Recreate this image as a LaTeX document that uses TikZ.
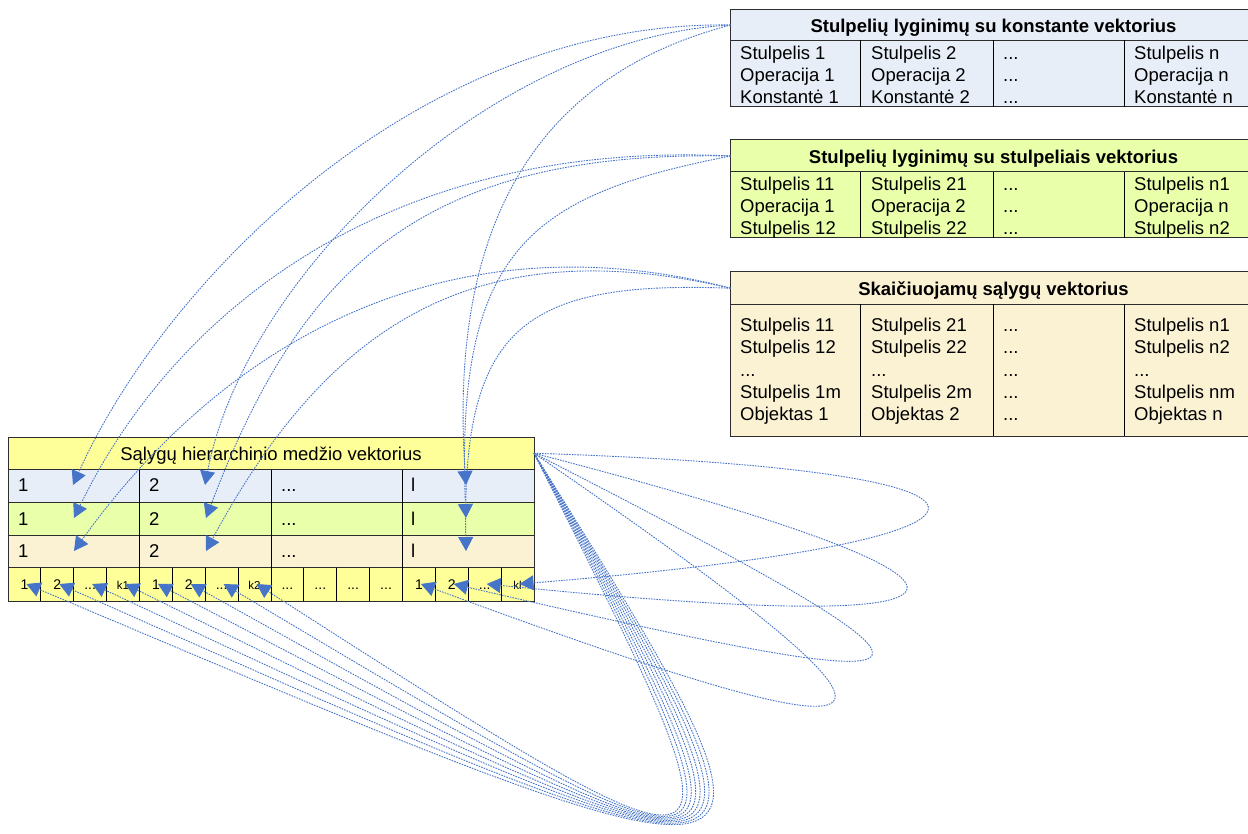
\documentclass[tikz,border=0pt]{standalone}
\usepackage{fontspec}
\setmainfont{Liberation Sans}
\usetikzlibrary{arrows.meta}
\definecolor{linkblue}{RGB}{70,116,200}
\definecolor{fillblue}{RGB}{232,238,248}
\definecolor{fillgreen}{RGB}{233,255,170}
\definecolor{fillcream}{RGB}{251,242,212}
\definecolor{fillyellow}{RGB}{255,255,153}
\definecolor{framegray}{RGB}{45,45,45}
\newcommand\dotsx{...}

\begin{document}
\begin{tikzpicture}[x=1pt,y=-1pt,
  box/.style={rectangle,draw=framegray,line width=1pt,inner sep=0pt,outer sep=0pt,anchor=north west},
  rule/.style={draw=black,line width=1pt},
  txt/.style={inner sep=0pt,anchor=base west,font=\fontsize{18.5}{22}\selectfont},
  ttl/.style={inner sep=0pt,anchor=base,font=\fontsize{18.5}{22}\selectfont\bfseries},
  small/.style={inner sep=0pt,anchor=base,font=\fontsize{14}{16}\selectfont},
  tiny/.style={inner sep=0pt,anchor=base,font=\fontsize{11.5}{13}\selectfont},
  link/.style={draw=linkblue,line width=0.9pt,dash pattern=on 1.6pt off 1.1pt,
    -{Triangle[length=14pt,width=15pt]}},
]
\useasboundingbox (0,0) rectangle (1248,834);
\clip (0,0) rectangle (1248,834);
\fill[white] (0,0) rectangle (1248,834);

% ---------- vector of column/constant comparisons
\node[box,fill=fillblue,minimum width=525.3pt,minimum height=97.5pt] (t1) at (730.7,9.5) {};
\node[box,fill=fillblue,minimum width=525.3pt,minimum height=31pt] (t1h) at (730.7,9.5) {};
\foreach \cx in {860.7,993,1124.7} \draw[rule] (\cx,40.5) -- (\cx,107);
\node[ttl] (t1t) at (993.5,32.8) {Stulpelių lyginimų su konstante vektorius};
\foreach \cx/\a/\b/\c [count=\k] in {740/Stulpelis 1/Operacija 1/Konstantė 1,
    871/Stulpelis 2/Operacija 2/Konstantė 2, 1003/\dotsx/\dotsx/\dotsx,
    1134/Stulpelis n/Operacija n/Konstantė n}{
  \node[txt] (p1-\k-1) at (\cx,59.3) {\a};
  \node[txt] (p1-\k-2) at (\cx,81.6) {\b};
  \node[txt] (p1-\k-3) at (\cx,104) {\c};
}

% ---------- vector of column/column comparisons
\node[box,fill=fillgreen,minimum width=525.3pt,minimum height=98pt] (t2) at (730.7,140) {};
\node[box,fill=fillgreen,minimum width=525.3pt,minimum height=32pt] (t2h) at (730.7,140) {};
\foreach \cx in {860.7,993,1124.7} \draw[rule] (\cx,172) -- (\cx,238);
\node[ttl] (t2t) at (993.5,164) {Stulpelių lyginimų su stulpeliais vektorius};
\foreach \cx/\a/\b/\c [count=\k] in {740/Stulpelis 11/Operacija 1/Stulpelis 12,
    871/Stulpelis 21/Operacija 2/Stulpelis 22, 1003/\dotsx/\dotsx/\dotsx,
    1134/Stulpelis n1/Operacija n/Stulpelis n2}{
  \node[txt] (p2-\k-1) at (\cx,190.6) {\a};
  \node[txt] (p2-\k-2) at (\cx,212.9) {\b};
  \node[txt] (p2-\k-3) at (\cx,235) {\c};
}

% ---------- vector of computed conditions
\node[box,fill=fillcream,minimum width=525.3pt,minimum height=164pt] (t3) at (730.7,272) {};
\node[box,fill=fillcream,minimum width=525.3pt,minimum height=32.5pt] (t3h) at (730.7,272) {};
\foreach \cx in {860.7,993,1124.7} \draw[rule] (\cx,304.5) -- (\cx,436);
\node[ttl] (t3t) at (993.5,295.3) {Skaičiuojamų sąlygų vektorius};
\foreach \cx/\a/\b/\c/\d/\e [count=\k] in {740/Stulpelis 11/Stulpelis 12/\dotsx/Stulpelis 1m/Objektas 1,
    871/Stulpelis 21/Stulpelis 22/\dotsx/Stulpelis 2m/Objektas 2,
    1003/\dotsx/\dotsx/\dotsx/\dotsx/\dotsx,
    1134/Stulpelis n1/Stulpelis n2/\dotsx/Stulpelis nm/Objektas n}{
  \node[txt] (p3-\k-1) at (\cx,331.9) {\a};
  \node[txt] (p3-\k-2) at (\cx,354) {\b};
  \node[txt] (p3-\k-3) at (\cx,376.3) {\c};
  \node[txt] (p3-\k-4) at (\cx,398) {\d};
  \node[txt] (p3-\k-5) at (\cx,420.3) {\e};
}

% ---------- hierarchical condition tree vector
\node[box,fill=fillyellow,minimum width=526pt,minimum height=32.5pt] (mh) at (8,437) {};
\node[box,fill=fillblue,minimum width=526pt,minimum height=33pt] (mr1) at (8,469.5) {};
\node[box,fill=fillgreen,minimum width=526pt,minimum height=32.5pt] (mr2) at (8,502.5) {};
\node[box,fill=fillcream,minimum width=526pt,minimum height=32.5pt] (mr3) at (8,535) {};
\node[box,fill=fillyellow,minimum width=526pt,minimum height=33.5pt] (mr4) at (8,567.5) {};
\foreach \cx in {139.5,271,402.5} \draw[rule] (\cx,469.5) -- (\cx,567.5);
\foreach \k in {1,...,15} \draw[rule] ({8+32.875*\k},567.5) -- ({8+32.875*\k},601);
\node[inner sep=0pt,anchor=base,font=\fontsize{18.5}{22}\selectfont] (mt) at (271,460)
  {Sąlygų hierarchinio medžio vektorius};
\foreach \yy [count=\r] in {491.6,525,557.3}{
  \node[txt] (m-\r-1) at (18,\yy) {1};
  \node[txt] (m-\r-2) at (149,\yy) {2};
  \node[txt] (m-\r-3) at (281,\yy) {\dotsx};
  \node[txt] (m-\r-4) at (411,\yy) {l};
}
\foreach \lab/\sty [count=\k] in {1/small,2/small,\dotsx/small,k1/tiny,1/small,2/small,\dotsx/small,k2/tiny,
    \dotsx/small,\dotsx/small,\dotsx/small,\dotsx/small,1/small,2/small,\dotsx/small,kl/tiny}{
  \node[\sty] (s-\k) at ({8+32.875*(\k-0.5)},589) {\lab};
  \coordinate (b\k) at ({10+32.875*(\k-0.5)},584);
}

% ---------- arrow targets inside the cells
\coordinate (a11) at (73,485);  \coordinate (a12) at (205,485); \coordinate (a13) at (466,485);
\coordinate (a21) at (74,518);  \coordinate (a22) at (206,518); \coordinate (a23) at (466,518);
\coordinate (a31) at (74,551);  \coordinate (a32) at (206,551); \coordinate (a33) at (466,551);

% ---------- links from the three vectors
\draw[link] (t1h.west) .. controls (420,20)  and (165,280) .. (a11);
\draw[link] (t1h.west) .. controls (491,38)  and (245,275) .. (a12);
\draw[link] (t1h.west) .. controls (540,75)  and (448,220) .. (a13);
\draw[link] (t2h.west) .. controls (400,140) and (180,300) .. (a21);
\draw[link] (t2h.west) .. controls (420,150) and (300,270) .. (a22);
\draw[link] (t2h.west) .. controls (530,195) and (455,250) .. (a23);
\draw[link] (t3h.west) .. controls (470,220) and (240,320) .. (a31);
\draw[link] (t3h.west) .. controls (480,230) and (330,320) .. (a32);
\draw[link] (t3h.west) .. controls (520,280) and (462,330) .. (a33);

% ---------- links from the tree header back to its child cells
\foreach \i/\qx/\qy in {1/826.4/922.8, 2/817.5/921.0, 3/808.7/919.0, 4/799.7/917.1,
    5/790.8/915.2, 6/781.8/913.4, 7/773.0/911.4, 8/764.1/909.5}
  \draw[link] (mh.east) .. controls (\qx,\qy) .. (b\i);
\draw[link] (mh.east) .. controls (1060,470) and (1060,540) .. (b16);
\draw[link] (mh.east) .. controls (1037,584) and (1037,640) .. (b15);
\draw[link] (mh.east) .. controls (996,690)  and (996,710)  .. (b14);
\draw[link] (mh.east) .. controls (951,740)  and (951,780)  .. (b13);
\end{tikzpicture}
\end{document}
